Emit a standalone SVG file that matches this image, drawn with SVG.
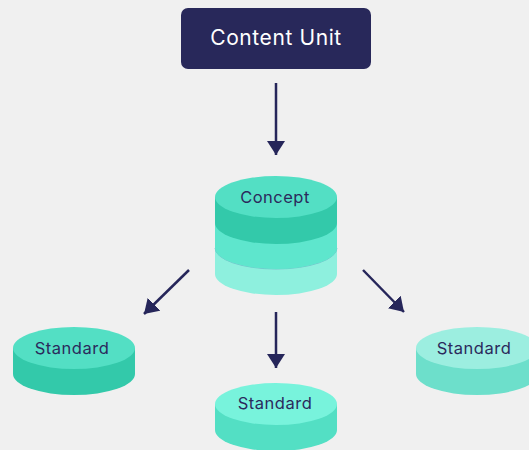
<svg xmlns="http://www.w3.org/2000/svg" width="529" height="450" viewBox="0 0 529 450">
<style>
.lbl{font-family:"Inter","Noto Sans","Liberation Sans",sans-serif;fill:#2b2a5c;text-anchor:middle;font-size:16.5px;letter-spacing:0.5px;}
.conn{stroke:#26265a;stroke-width:2.5;fill:none;}
</style>
<defs>
<marker id="ah" viewBox="0 0 14 18" refX="14" refY="9" markerWidth="14" markerHeight="18" markerUnits="userSpaceOnUse" orient="auto">
<path d="M0,0 L14,9 L0,18 Z" fill="#26265a"/>
</marker>
</defs>
<rect width="529" height="450" fill="#f0f0f0"/>
<g id="content-unit">
<rect x="181" y="8" width="190" height="61" rx="7" fill="#28285a"/>
<text x="276" y="45" class="lbl" style="fill:#ffffff;font-size:21px;letter-spacing:0.6px">Content Unit</text>
</g>
<g id="concept">
<path d="M215,248 L215,274 A61,21 0 0 0 337,274 L337,248 Z" fill="#8ef0de"/>
<path d="M215,248 A61,21 0 0 0 337,248" fill="none" stroke="#6fb8c8" stroke-width="0.8"/>
<path d="M215,223 L215,248 A61,21 0 0 0 337,248 L337,223 Z" fill="#5ee6cd"/>
<path d="M215,197 L215,223 A61,21 0 0 0 337,223 L337,197 Z" fill="#33c9aa"/>
<ellipse cx="276" cy="197" rx="61" ry="21" fill="#53dfc4"/>
<text x="275" y="203" class="lbl">Concept</text>
</g>
<g id="standard-left">
<path d="M13,348 L13,374 A61,21 0 0 0 135,374 L135,348 Z" fill="#33c9aa"/>
<ellipse cx="74" cy="348" rx="61" ry="21" fill="#53dfc4"/>
<text x="72" y="354" class="lbl">Standard</text>
</g>
<g id="standard-middle">
<path d="M215,404 L215,430 A61,21 0 0 0 337,430 L337,404 Z" fill="#53dfc4"/>
<ellipse cx="276" cy="404" rx="61" ry="21" fill="#78f3dc"/>
<text x="275" y="409" class="lbl">Standard</text>
</g>
<g id="standard-right">
<path d="M416,348 L416,374 A61,21 0 0 0 538,374 L538,348 Z" fill="#6ddfcb"/>
<ellipse cx="477" cy="348" rx="61" ry="21" fill="#9ceee0"/>
<text x="474" y="354" class="lbl">Standard</text>
</g>
<g id="connectors">
<line x1="276" y1="83" x2="276" y2="155" class="conn" marker-end="url(#ah)"/>
<line x1="189" y1="270" x2="144" y2="314" class="conn" marker-end="url(#ah)"/>
<line x1="276" y1="312" x2="276" y2="368" class="conn" marker-end="url(#ah)"/>
<line x1="363" y1="270" x2="404" y2="312" class="conn" marker-end="url(#ah)"/>
</g>
</svg>
